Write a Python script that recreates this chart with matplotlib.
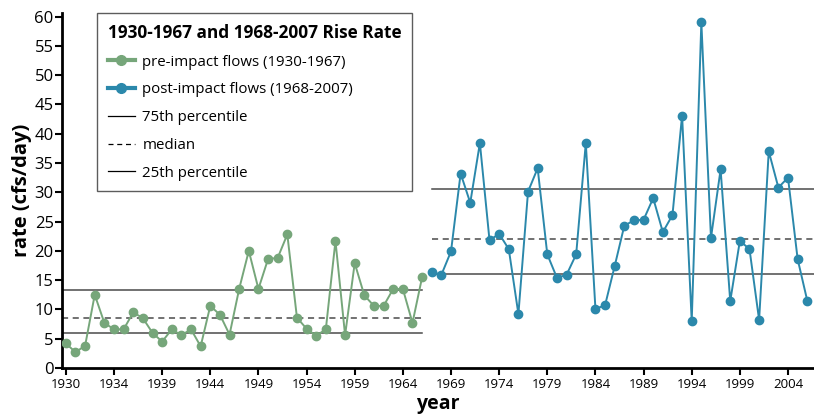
import matplotlib.pyplot as plt
import numpy as np
from matplotlib.lines import Line2D

plt.rcParams['font.family'] = ['Open Sans', 'DejaVu Sans']

# rise rate by year (cfs/day)
pre_years = np.arange(1930, 1968)
pre_rate = [4.2, 2.7, 3.8, 12.5, 7.7, 6.6, 6.6, 9.5, 8.5, 6.0,
            4.5, 6.6, 5.6, 6.6, 3.7, 10.6, 9.1, 5.7, 13.5, 20.0,
            13.5, 18.6, 18.8, 22.8, 8.6, 6.7, 5.5, 6.6, 21.7, 5.6,
            17.9, 12.4, 10.6, 10.6, 13.5, 13.5, 7.7, 15.5]

post_years = np.arange(1968, 2008)
post_rate = [16.4, 15.9, 19.9, 33.2, 28.2, 38.4, 21.8, 22.9, 20.3, 9.2,
             30.1, 34.1, 19.4, 15.4, 15.9, 19.4, 38.4, 10.1, 10.7, 17.4,
             24.3, 25.2, 25.3, 29.0, 23.2, 26.1, 43.1, 8.0, 59.0, 22.2,
             33.9, 11.4, 21.7, 20.3, 8.2, 37.0, 30.8, 32.5, 18.6, 11.5]

# 25th, median, 75th percentile
pre_pct = [5.9, 8.5, 13.4]
post_pct = [16.0, 22.0, 30.5]

tick_pos = np.arange(1930, 2006, 5)
tick_labels = ["1930", "1934", "1939", "1944", "1949", "1954", "1959", "1964",
               "1969", "1974", "1979", "1984", "1989", "1994", "1999", "2004"]

green = "#76a67a"
blue = "#2b88ab"
gray = "#4a4a4a"
dash = (0, (4, 3))

fig = plt.figure(figsize=(8.14, 4.19), dpi=100)
ax = fig.add_axes([62 / 814, 51 / 419, 752 / 814, 355 / 419])

x0, x1 = 1929.6, 2007.7
ax.set_xlim(x0, x1)
ax.set_ylim(0, 60.6)

# percentile lines
for val, ls in zip(pre_pct, ["-", dash, "-"]):
    ax.plot([x0, 1967], [val, val], color=gray, lw=1.1, ls=ls, zorder=1)
for val, ls in zip(post_pct, ["-", dash, "-"]):
    ax.plot([1968, x1], [val, val], color=gray, lw=1.1, ls=ls, zorder=1)

ax.plot(pre_years, pre_rate, color=green, lw=1.4, marker='o', ms=6, zorder=3)
ax.plot(post_years, post_rate, color=blue, lw=1.4, marker='o', ms=6, zorder=3,
        clip_on=False)

ax.set_xticks(tick_pos)
ax.set_xticklabels(tick_labels, fontsize=9.5)
ax.set_yticks(np.arange(0, 61, 5))
ax.tick_params(axis='y', labelsize=12, length=5, width=1.5, pad=1)
ax.tick_params(axis='x', length=5, width=1.5, pad=2)

for s in ["top", "right"]:
    ax.spines[s].set_visible(False)
for s in ["left", "bottom"]:
    ax.spines[s].set_linewidth(2)

ax.set_ylabel("rate (cfs/day)", fontsize=14.5, fontweight='bold', labelpad=2)
ax.set_xlabel("year", fontsize=14, fontweight='bold', labelpad=2)

handles = [
    Line2D([], [], color=green, lw=3, marker='o', ms=7),
    Line2D([], [], color=blue, lw=3, marker='o', ms=7),
    Line2D([], [], color="black", lw=0.9),
    Line2D([], [], color="black", lw=0.9, ls=dash),
    Line2D([], [], color="black", lw=0.9),
]
labels = ["pre-impact flows (1930-1967)", "post-impact flows (1968-2007)",
          "75th percentile", "median", "25th percentile"]
leg = ax.legend(handles, labels, title="1930-1967 and 1968-2007 Rise Rate",
                loc="upper left", bbox_to_anchor=(35 / 752, 1.0),
                fontsize=10.8, title_fontproperties={'weight': 'bold', 'size': 12.4},
                frameon=True, fancybox=False, edgecolor="#333333",
                handlelength=1.8, handletextpad=0.5, labelspacing=0.85,
                borderpad=0.72, borderaxespad=0, alignment='left')
leg.get_frame().set_linewidth(1.0)

fig.savefig("out.png", dpi=100)
